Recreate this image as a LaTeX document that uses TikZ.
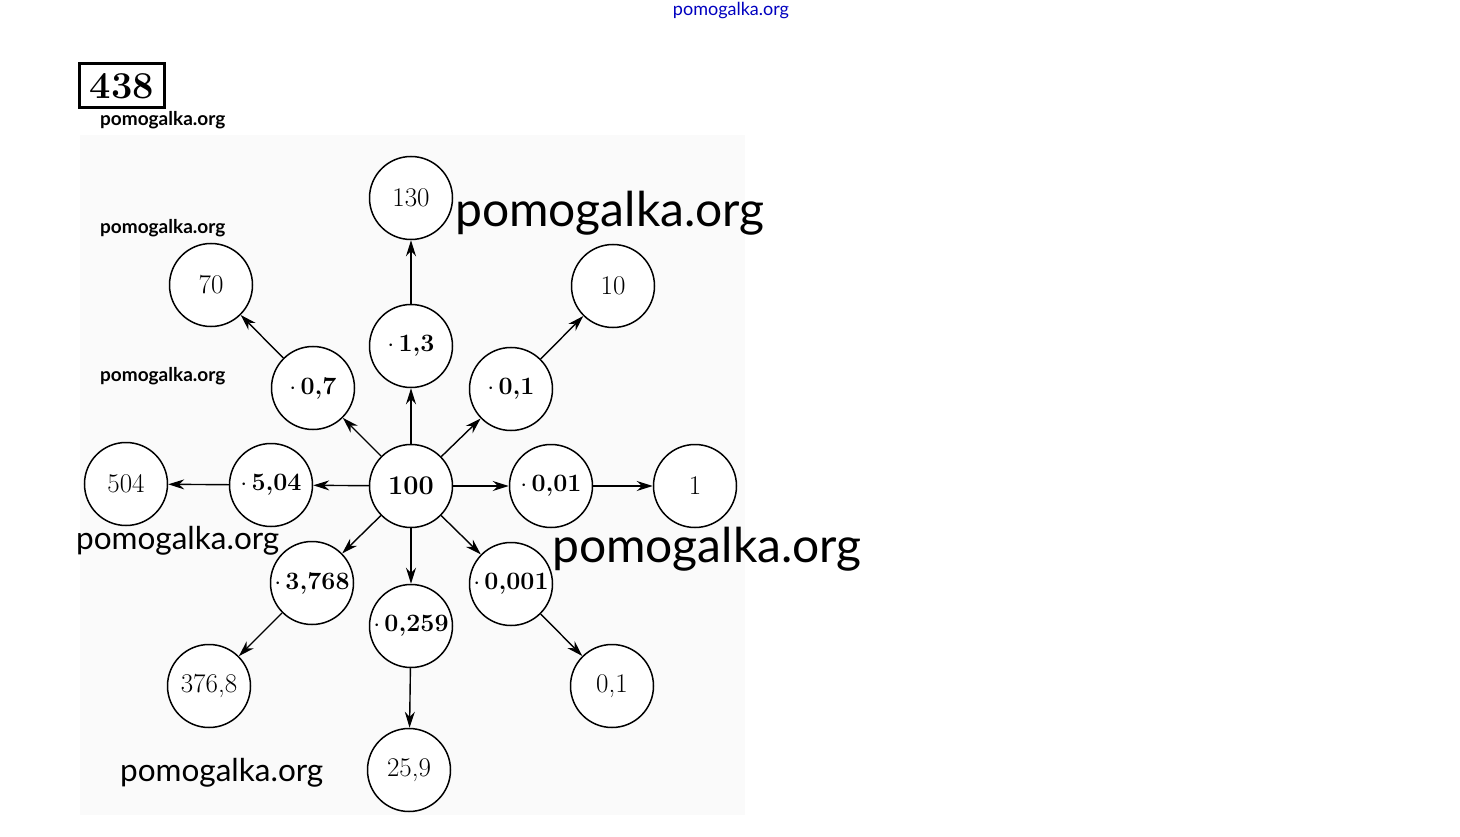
\documentclass[tikz,border=0pt]{standalone}
\usepackage{fontspec}
\newfontfamily\wm{Lato}
\usetikzlibrary{arrows.meta}
\tikzset{
  circ/.style={draw, circle, minimum size=83pt, inner sep=0pt, line width=1.5pt, fill=white, font=\fontsize{27}{30}\selectfont},
  mult/.style={circ, font=\fontsize{25}{28}\selectfont\bfseries},
  arr/.style={line width=1.4pt, -{Stealth[length=16pt,width=10pt]}},
  wmbig/.style={inner sep=0pt, anchor=west, font=\wm\fontsize{48}{54}\selectfont},
  wmmid/.style={inner sep=0pt, anchor=west, font=\wm\fontsize{31.5}{36}\selectfont},
  wmsmall/.style={inner sep=0pt, anchor=west, font=\wm\bfseries\fontsize{19}{22}\selectfont},
}
\begin{document}
\begin{tikzpicture}[x=1pt,y=-1pt]
\useasboundingbox (0,0) rectangle (1460,837);
\fill[black!2] (80,135) rectangle (745,815);
% title box
\node[draw, line width=3pt, minimum width=85pt, minimum height=44pt, inner sep=0pt, font=\fontsize{38}{40}\selectfont\bfseries] (num) at (122,86) {438};
% nodes
\node[circ] (c) at (411,486) {\bfseries 100};
\node[mult] (m13) at (411,346) {$\cdot$\,1,3};
\node[circ] (r130) at (411,198) {130};
\node[mult] (m07) at (313,388) {$\cdot$\,0,7};
\node[circ] (r70) at (211,285) {70};
\node[mult] (m01) at (511,389) {$\cdot$\,0,1};
\node[circ] (r10) at (613,286) {10};
\node[mult] (m504) at (271,485) {$\cdot$\,5,04};
\node[circ] (r504) at (126,484) {504};
\node[mult] (m001) at (551,486) {$\cdot$\,0,01};
\node[circ] (r1) at (695,486) {1};
\node[mult] (m3768) at (312,583) {$\cdot$\,3,768};
\node[circ] (r3768) at (209,686) {376,8};
\node[mult] (m0259) at (411,626) {$\cdot$\,0,259};
\node[circ] (r259) at (409,770) {25,9};
\node[mult] (m0001) at (511,584) {$\cdot$\,0,001};
\node[circ] (r01) at (612,686) {0,1};
% arrows
\draw[arr] (c) -- (m13);
\draw[arr] (m13) -- (r130);
\draw[arr] (c) -- (m07);
\draw[arr] (m07) -- (r70);
\draw[arr] (c) -- (m01);
\draw[arr] (m01) -- (r10);
\draw[arr] (c) -- (m504);
\draw[arr] (m504) -- (r504);
\draw[arr] (c) -- (m001);
\draw[arr] (m001) -- (r1);
\draw[arr] (c) -- (m3768);
\draw[arr] (m3768) -- (r3768);
\draw[arr] (c) -- (m0259);
\draw[arr] (m0259) -- (r259);
\draw[arr] (c) -- (m0001);
\draw[arr] (m0001) -- (r01);
% watermarks
\node[inner sep=0pt, text=blue!75!black, font=\wm\fontsize{18}{20}\selectfont] (wtop) at (731,11) {pomogalka.org};
\node[wmsmall] (w1) at (100,120) {pomogalka.org};
\node[wmsmall] (w2) at (100,228) {pomogalka.org};
\node[wmsmall] (w3) at (100,376) {pomogalka.org};
\node[wmbig] (w4) at (455,213) {pomogalka.org};
\node[wmbig] (w5) at (552,549) {pomogalka.org};
\node[wmmid] (w6) at (76,541) {pomogalka.org};
\node[wmmid] (w7) at (120,773) {pomogalka.org};
\end{tikzpicture}
\end{document}
